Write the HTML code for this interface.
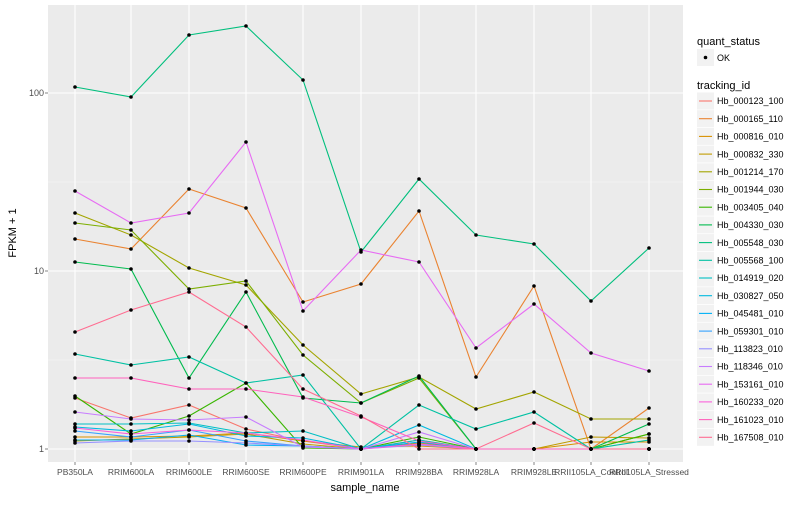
<!DOCTYPE html>
<html><head><style>
body{margin:0;background:#fff;}
svg text{font-family:"Liberation Sans",sans-serif;}
</style></head><body>
<svg id="s" width="800" height="500" xmlns="http://www.w3.org/2000/svg">
<rect x="48" y="5" width="635" height="457" fill="#EBEBEB"/>
<g stroke="#F5F5F5" stroke-width="0.6">
<line x1="48" x2="683" y1="182" y2="182"/><line x1="48" x2="683" y1="360" y2="360"/>
</g>
<g id="grid" stroke="#fff" stroke-width="1.1">
<line x1="48" x2="683" y1="93" y2="93"/><line x1="48" x2="683" y1="271" y2="271"/><line x1="48" x2="683" y1="449" y2="449"/>
</g>
<g id="lines" fill="none" stroke-width="1.1"></g>
<g id="pts"></g>
<g font-size="9" fill="#4D4D4D" text-anchor="end">
<text x="44" y="96">100</text><text x="44" y="274">10</text><text x="44" y="452">1</text>
</g>
<g stroke="#333" stroke-width="0.6">
<line x1="45" x2="48" y1="93" y2="93"/><line x1="45" x2="48" y1="271" y2="271"/><line x1="45" x2="48" y1="449" y2="449"/>
</g>
<g id="xl" font-size="8.5" fill="#4D4D4D" text-anchor="middle"></g>
<text x="365" y="491" font-size="11" text-anchor="middle" fill="#000">sample_name</text>
<text transform="translate(16,233) rotate(-90)" font-size="11" text-anchor="middle" fill="#000">FPKM + 1</text>
<text x="697" y="45" font-size="11">quant_status</text>
<rect x="697" y="49" width="17" height="17" fill="#F2F2F2"/>
<circle cx="705.5" cy="57.5" r="1.8" fill="#000"/>
<text x="717" y="61" font-size="9">OK</text>
<text x="697" y="89" font-size="11">tracking_id</text>
<g id="leg" font-size="9"></g>
</svg>
<script>
var X=[75,131,189,246,303,361,419,476,534,591,649];
var names=["PB350LA","RRIM600LA","RRIM600LE","RRIM600SE","RRIM600PE","RRIM901LA","RRIM928BA","RRIM928LA","RRIM928LE","RRII105LA_Control","RRII105LA_Stressed"];
var cols=["#F8766D","#EA8331","#D89000","#C09B00","#A3A500","#7CAE00","#39B600","#00BB4E","#00BF7D","#00C1A3","#00BFC4","#00BAE0","#00B0F6","#35A2FF","#9590FF","#C77CFF","#E76BF3","#FA62DB","#FF62BC","#FF6C91"];
var ids=["Hb_000123_100","Hb_000165_110","Hb_000816_010","Hb_000832_330","Hb_001214_170","Hb_001944_030","Hb_003405_040","Hb_004330_030","Hb_005548_030","Hb_005568_100","Hb_014919_020","Hb_030827_050","Hb_045481_010","Hb_059301_010","Hb_113823_010","Hb_118346_010","Hb_153161_010","Hb_160233_020","Hb_161023_010","Hb_167508_010"];
var D=[
[0,[398,418,405,429,441,449,440,449,449,449,449]],
[1,[239,249,189,208,302,284,211,377,286,449,408]],
[2,[437,437,436,433,441,447,446,449,449,442,442]],
[3,[441,439,437,434,444,449,443,449,449,437,438]],
[4,[213,235,268,285,345,394,377,409,392,419,419]],
[5,[223,230,289,281,355,403,378,449,449,449,434]],
[6,[396,434,416,383,448,449,437,449,449,449,434]],
[7,[262,269,378,292,398,403,376,449,449,449,424]],
[8,[87,97,35,26,80,252,179,235,244,301,248]],
[9,[354,365,357,383,375,449,405,429,412,449,440]],
[10,[424,424,423,433,431,449,440,449,449,449,449]],
[11,[427,431,424,436,438,449,425,449,449,449,449]],
[12,[440,440,435,445,446,449,442,449,449,449,449]],
[13,[431,437,430,441,446,449,444,449,449,449,449]],
[14,[443,441,441,443,446,449,445,449,449,449,449]],
[15,[412,419,420,417,447,449,432,449,449,449,449]],
[16,[191,223,213,142,311,250,262,348,304,353,371]],
[17,[428,434,430,433,440,449,444,449,449,449,449]],
[18,[378,378,389,389,397,417,441,449,449,449,449]],
[19,[332,310,292,327,389,416,449,449,423,449,449]]
];
var L=document.getElementById("lines"),P=document.getElementById("pts"),ns="http://www.w3.org/2000/svg";
D.forEach(function(d){var p=document.createElementNS(ns,"polyline");
p.setAttribute("points",d[1].map(function(y,i){return X[i]+","+y}).join(" "));
p.setAttribute("stroke",cols[d[0]]);L.appendChild(p);
d[1].forEach(function(y,i){var c=document.createElementNS(ns,"circle");c.setAttribute("cx",X[i]);c.setAttribute("cy",y);c.setAttribute("r",1.8);P.appendChild(c);});});
var G=document.getElementById("grid"),XL=document.getElementById("xl");
X.forEach(function(x,i){var l=document.createElementNS(ns,"line");l.setAttribute("x1",x);l.setAttribute("x2",x);l.setAttribute("y1",5);l.setAttribute("y2",462);G.appendChild(l);
var t=document.createElementNS(ns,"text");t.setAttribute("x",x);t.setAttribute("y",475);t.textContent=names[i];XL.appendChild(t);
var k=document.createElementNS(ns,"line");k.setAttribute("x1",x);k.setAttribute("x2",x);k.setAttribute("y1",462);k.setAttribute("y2",465);k.setAttribute("stroke","#333");k.setAttribute("stroke-width",0.6);XL.appendChild(k);});
var LG=document.getElementById("leg");
ids.forEach(function(n,i){var y=101+i*17.7;
var r=document.createElementNS(ns,"rect");r.setAttribute("x",697);r.setAttribute("y",y-8.5);r.setAttribute("width",17);r.setAttribute("height",17);r.setAttribute("fill","#F2F2F2");LG.appendChild(r);
var l=document.createElementNS(ns,"line");l.setAttribute("x1",699);l.setAttribute("x2",712);l.setAttribute("y1",y);l.setAttribute("y2",y);l.setAttribute("stroke",cols[i]);l.setAttribute("stroke-width",1.1);LG.appendChild(l);
var t=document.createElementNS(ns,"text");t.setAttribute("x",717);t.setAttribute("y",y+3.2);t.textContent=n;LG.appendChild(t);});
</script>
</body></html>
